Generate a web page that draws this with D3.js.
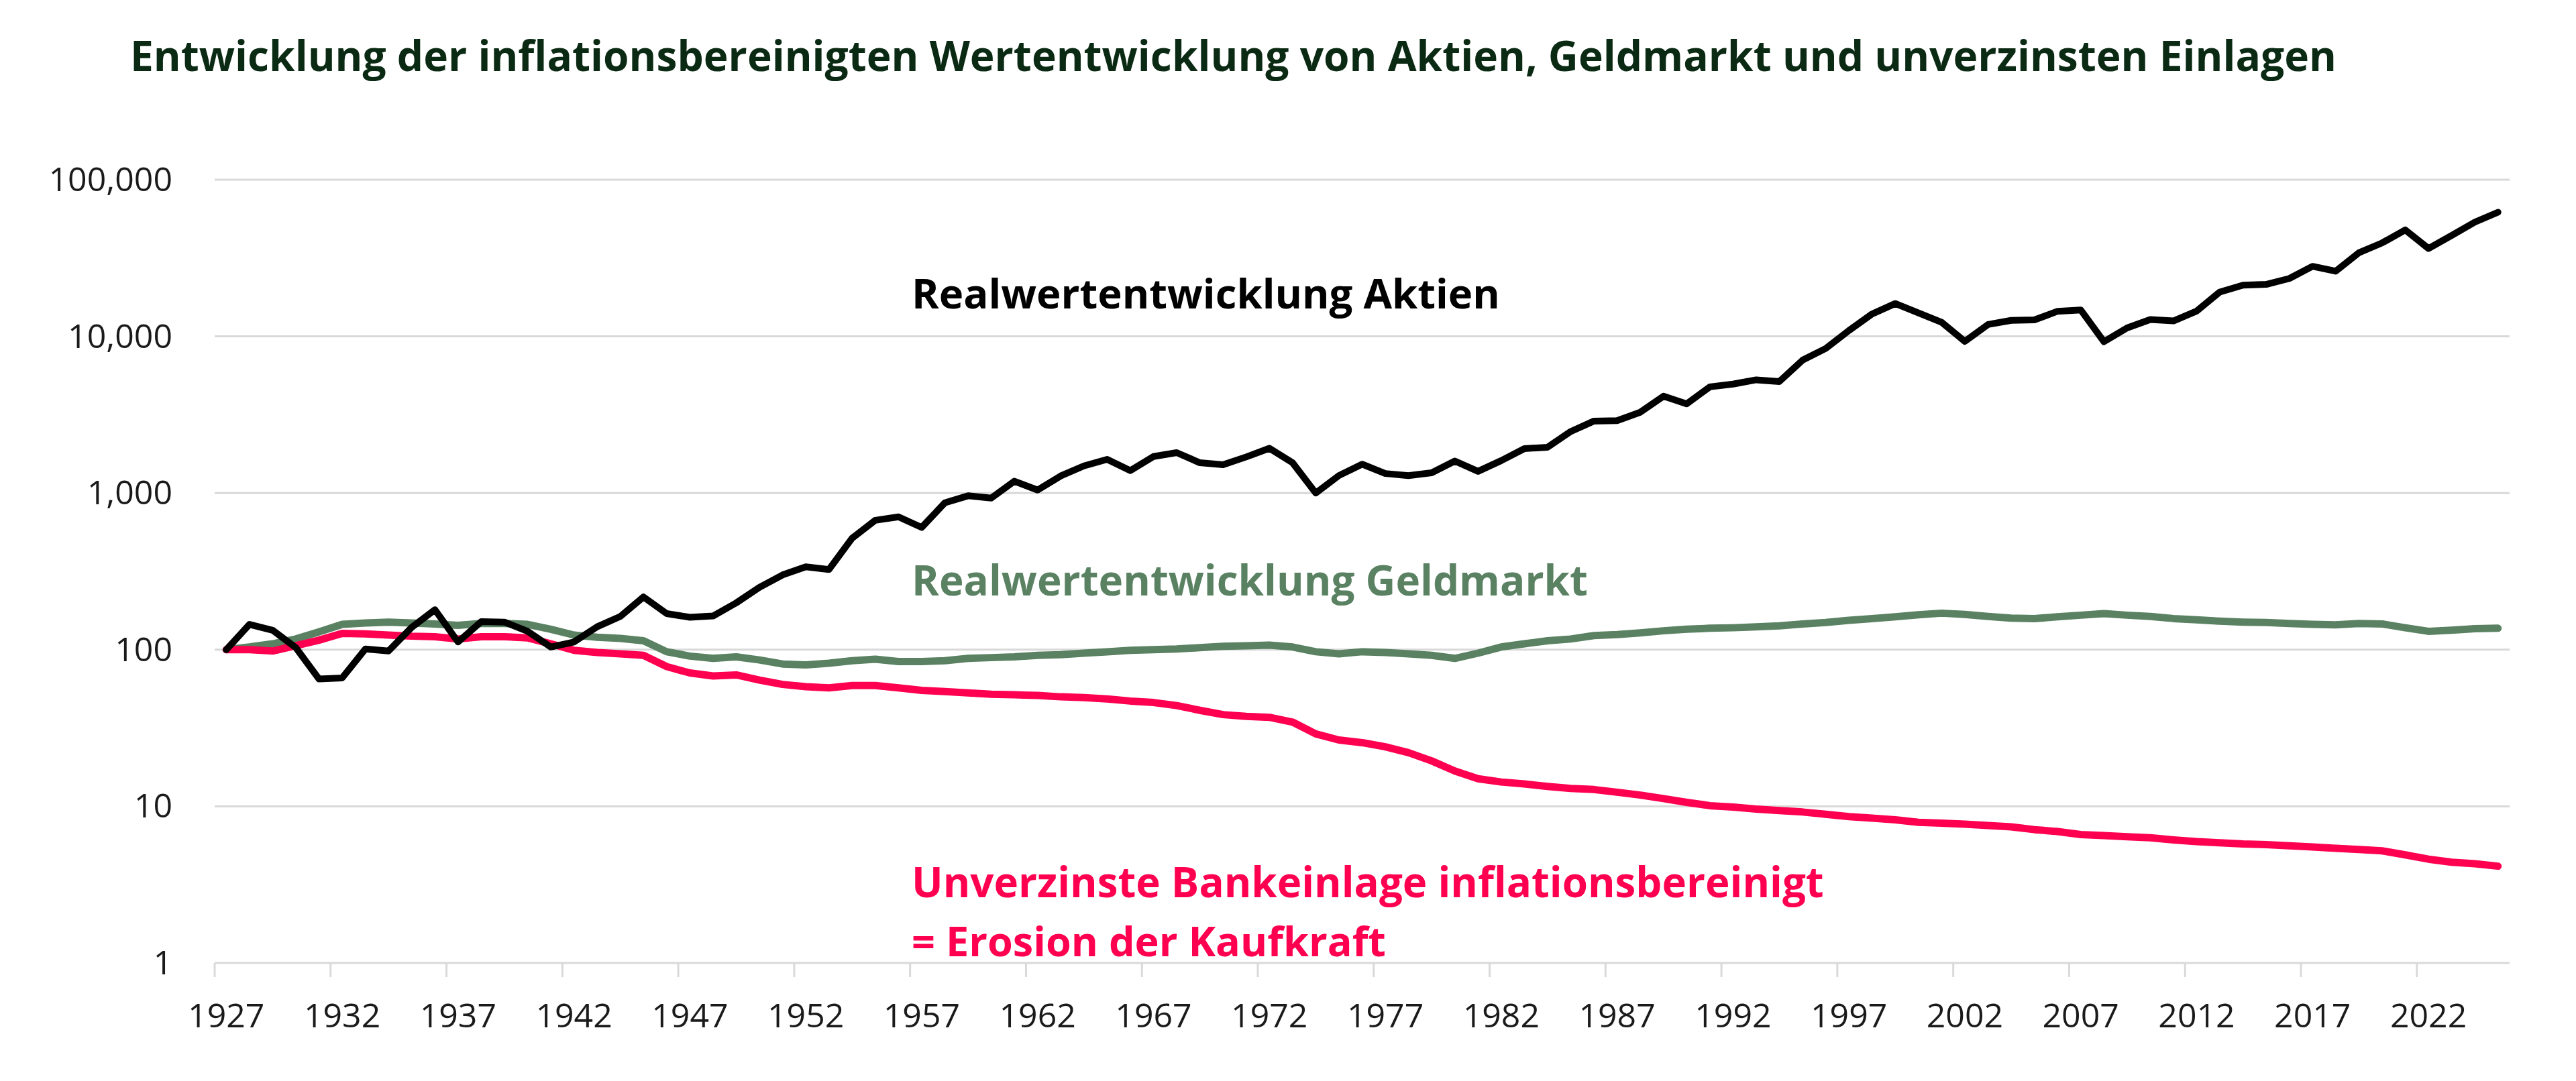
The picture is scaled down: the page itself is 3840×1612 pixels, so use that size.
<!DOCTYPE html>
<html>
<head>
<meta charset="utf-8">
<script src="https://cdn.jsdelivr.net/npm/d3@7/dist/d3.min.js"></script>
<style>
  html, body { margin: 0; padding: 0; background: #ffffff; }
  svg { display: block; }
</style>
</head>
<body>
<svg id="chart" width="3840" height="1612"></svg>
<script>
// ---------------- DATA ----------------
const firstYear = 1927;
const lastYear = 2025;
const years = d3.range(firstYear, lastYear + 1);

const xTickYears = [1927, 1932, 1937, 1942, 1947, 1952, 1957, 1962, 1967, 1972, 1977, 1982,
  1987, 1992, 1997, 2002, 2007, 2012, 2017, 2022];

const yTickValues = [1, 10, 100, 1000, 10000, 100000];
const yTickLabels = ["1", "10", "100", "1,000", "10,000", "100,000"];

// Realwertentwicklung Aktien (1927..2025)
const aktien = [
  100, 145, 133, 103, 65, 66, 101, 98, 139, 180,
  112, 151, 150, 131, 104, 112, 140, 163, 217, 170,
  161, 164, 199, 250, 300, 338, 325, 515, 670, 704,
  603, 866, 960, 928, 1190, 1045, 1286, 1490, 1640, 1390,
  1710, 1810, 1560, 1515, 1700, 1930, 1560, 1000, 1293, 1528,
  1332, 1291, 1346, 1600, 1375, 1610, 1920, 1960, 2470, 2880,
  2900, 3280, 4150, 3710, 4760, 4960, 5280, 5150, 7050, 8370,
  10900, 13900, 16200, 14120, 12300, 9290, 11900, 12650, 12740, 14460,
  14750, 9250, 11330, 12800, 12550, 14500, 19200, 21240, 21480, 23430,
  28000, 26060, 34200, 39500, 47800, 36400, 44100, 53600, 62000
];

// Realwertentwicklung Geldmarkt (1927..2025)
const geldmarkt = [
  100, 104, 109, 117, 130, 145, 148, 150, 148, 146,
  143, 147, 147, 145, 135, 124, 120, 118, 114, 97,
  91, 88, 90, 86, 81, 80, 82, 85, 87, 84,
  84, 85, 88, 89, 90, 92, 93, 95, 97, 99,
  100, 101, 103, 105, 106, 107, 104, 97, 94, 97,
  96, 94, 92, 88, 95, 104, 109, 114, 117, 123,
  125, 128, 132, 135, 137, 138, 140, 142, 146, 149,
  154, 158, 162, 167, 171, 168, 163, 159, 158, 162,
  166, 170, 166, 163, 158, 155, 152, 150, 149, 147,
  145, 144, 147, 146, 138, 131, 133, 136, 137
];

// Unverzinste Bankeinlage inflationsbereinigt (1927..2025)
const einlage = [
  100, 100, 98, 106, 115, 127, 126, 124, 122, 121,
  117, 121, 121, 119, 109, 99, 96, 94, 92, 78,
  71, 68, 69, 64, 60, 58, 57, 59, 59, 57,
  55, 54, 53, 52, 51.5, 51, 50, 49.5, 48.5, 47,
  46, 44, 41, 38.5, 37.5, 37, 34.5, 29, 26.5, 25.5,
  24, 22, 19.5, 16.8, 15, 14.3, 13.9, 13.4, 13, 12.8,
  12.3, 11.8, 11.2, 10.6, 10.1, 9.9, 9.6, 9.4, 9.2, 8.9,
  8.6, 8.4, 8.2, 7.9, 7.8, 7.7, 7.55, 7.4, 7.1, 6.9,
  6.6, 6.5, 6.4, 6.3, 6.1, 5.95, 5.85, 5.75, 5.7, 5.6,
  5.5, 5.4, 5.3, 5.2, 4.9, 4.6, 4.4, 4.3, 4.15
];

const titleText = "Entwicklung der inflationsbereinigten Wertentwicklung von Aktien, Geldmarkt und unverzinsten Einlagen";
const labelAktien = "Realwertentwicklung Aktien";
const labelGeld = "Realwertentwicklung Geldmarkt";
const labelEinlage1 = "Unverzinste Bankeinlage inflationsbereinigt";
const labelEinlage2 = "= Erosion der Kaufkraft";

// ---------------- LAYOUT ----------------
const svg = d3.select("#chart");
const plotLeft = 320, plotRight = 3741, plotTop = 268, plotBottom = 1436;
const font = "'Open Sans', 'Noto Sans', sans-serif";

svg.append("rect").attr("width", 3840).attr("height", 1612).attr("fill", "#ffffff");

const x = d3.scaleBand().domain(years).range([plotLeft, plotRight]).padding(0);
const xc = d => x(d) + x.bandwidth() / 2;
const y = d3.scaleLog().domain([1, 100000]).range([plotBottom, plotTop]);

// gridlines
svg.append("g")
  .selectAll("line")
  .data(yTickValues)
  .join("line")
  .attr("x1", plotLeft).attr("x2", plotRight)
  .attr("y1", d => y(d)).attr("y2", d => y(d))
  .attr("stroke", "#d9d9d9").attr("stroke-width", 3);

// y axis labels
svg.append("g")
  .selectAll("text")
  .data(yTickValues)
  .join("text")
  .attr("x", 257)
  .attr("y", d => y(d) + 17)
  .attr("text-anchor", "end")
  .attr("font-family", font)
  .attr("font-size", 50)
  .attr("fill", "#1a1a1a")
  .text((d, i) => yTickLabels[i]);

// x ticks (between categories)
svg.append("g")
  .selectAll("line")
  .data(xTickYears)
  .join("line")
  .attr("x1", d => x(d)).attr("x2", d => x(d))
  .attr("y1", plotBottom).attr("y2", plotBottom + 21)
  .attr("stroke", "#d9d9d9").attr("stroke-width", 3);

// x labels
svg.append("g")
  .selectAll("text")
  .data(xTickYears)
  .join("text")
  .attr("x", d => xc(d))
  .attr("y", 1532)
  .attr("text-anchor", "middle")
  .attr("font-family", font)
  .attr("font-size", 50)
  .attr("fill", "#1a1a1a")
  .text(d => d);

// lines
const line = d3.line().x((d, i) => xc(years[i])).y(d => y(d));
const series = [
  { values: geldmarkt, color: "#5a8262", width: 11 },
  { values: einlage, color: "#ff0050", width: 11 },
  { values: aktien, color: "#000000", width: 10 }
];
svg.append("g")
  .selectAll("path")
  .data(series)
  .join("path")
  .attr("d", d => line(d.values))
  .attr("fill", "none")
  .attr("stroke", d => d.color)
  .attr("stroke-width", d => d.width)
  .attr("stroke-linejoin", "round")
  .attr("stroke-linecap", "round");

// texts
function fitSize(el, size, targetWidth) {
  const w = el.node().getComputedTextLength();
  if (w > 0 && targetWidth) el.attr("font-size", size * targetWidth / w);
}
function addText(str, tx, ty, size, color, targetWidth) {
  const t = svg.append("text")
    .attr("x", tx).attr("y", ty)
    .attr("font-family", font)
    .attr("font-weight", 700)
    .attr("font-size", size)
    .attr("fill", color)
    .text(str);
  fitSize(t, size, targetWidth);
  return t;
}

addText(titleText, 194, 106, 60, "#0b2a14", 3289);
addText(labelAktien, 1359, 460, 62, "#000000", 877);
addText(labelGeld, 1359, 888, 62, "#5a8262", 1008);
addText(labelEinlage1, 1359, 1338, 62, "#ff0050", 1360);
addText(labelEinlage2, 1359, 1426, 62, "#ff0050", 707);
</script>
</body>
</html>
